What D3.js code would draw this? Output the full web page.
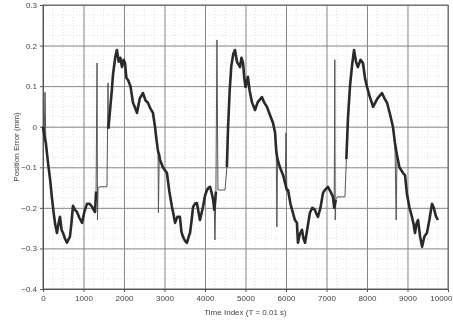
<!DOCTYPE html>
<html>
<head>
<meta charset="utf-8">
<script src="https://cdn.jsdelivr.net/npm/d3@7"></script>
<style>
  body { margin: 0; background: #fff; }
  svg { display: block; filter: blur(0.5px); }
  .tick text { font-family: "Liberation Sans", Arial, sans-serif; font-size: 8px; fill: #444; }
  .axis-title { font-family: "Liberation Sans", Arial, sans-serif; font-size: 8px; fill: #444; }
</style>
</head>
<body>
<svg width="453" height="322"></svg>
<script>
// time index (samples, T = 0.01 s)
const timeIdx = [
  0, 30, 50, 70, 125, 175, 220, 260, 300, 345, 390, 420, 460, 495, 540, 590, 630, 665, 700, 740,
  790, 840, 900, 965, 1020, 1085, 1150, 1210, 1250, 1285, 1310, 1335, 1345, 1360, 1405, 1480, 1580, 1605, 1615, 1655,
  1700, 1730, 1790, 1825, 1870, 1910, 1950, 1990, 2025, 2060, 2100, 2160, 2220, 2280, 2320, 2390, 2470, 2530, 2590, 2650,
  2715, 2765, 2800, 2840, 2850, 2870, 2890, 2960, 3060, 3120, 3185, 3230, 3260, 3320, 3380, 3420, 3455, 3500, 3555, 3600,
  3630, 3670, 3705, 3750, 3800, 3840, 3875, 3910, 3950, 4000, 4050, 4090, 4125, 4170, 4200, 4230, 4245, 4270, 4295, 4320,
  4495, 4540, 4570, 4610, 4650, 4700, 4740, 4790, 4865, 4900, 4940, 4970, 5000, 5060, 5100, 5160, 5235, 5300, 5405, 5460,
  5530, 5600, 5680, 5730, 5760, 5775, 5790, 5850, 5930, 5980, 6000, 6020, 6050, 6110, 6170, 6220, 6270, 6295, 6340, 6395,
  6430, 6470, 6530, 6590, 6650, 6715, 6750, 6790, 6850, 6915, 6970, 7035, 7100, 7160, 7190, 7205, 7215, 7230, 7260, 7455,
  7490, 7530, 7580, 7630, 7680, 7730, 7775, 7840, 7900, 7950, 8000, 8050, 8150, 8260, 8370, 8430, 8495, 8570, 8640, 8690,
  8720, 8740, 8800, 8890, 8940, 8985, 9050, 9110, 9150, 9185, 9220, 9260, 9310, 9360, 9420, 9480, 9540, 9605, 9650, 9700,
  9750
];

// position error (mm)
const posError = [
  0.0, -0.02, 0.085, -0.04, -0.09, -0.13, -0.175, -0.21, -0.24, -0.262, -0.235, -0.222, -0.255, -0.262, -0.275, -0.286, -0.278, -0.271, -0.24, -0.195,
  -0.205, -0.21, -0.225, -0.237, -0.21, -0.19, -0.19, -0.197, -0.205, -0.21, -0.16, 0.157, -0.23, -0.15, -0.148, -0.148, -0.148, 0.108, -0.005, 0.04,
  0.09, 0.13, 0.175, 0.189, 0.16, 0.17, 0.147, 0.165, 0.157, 0.12, 0.115, 0.10, 0.06, 0.045, 0.034, 0.07, 0.083, 0.065, 0.059, 0.045,
  0.034, 0.0, -0.03, -0.06, -0.212, -0.07, -0.082, -0.10, -0.114, -0.16, -0.198, -0.22, -0.237, -0.222, -0.222, -0.26, -0.271, -0.28, -0.286, -0.27,
  -0.262, -0.23, -0.198, -0.19, -0.188, -0.21, -0.23, -0.215, -0.198, -0.17, -0.156, -0.15, -0.148, -0.165, -0.18, -0.205, -0.279, -0.16, 0.214, -0.156,
  -0.156, -0.1, 0.0, 0.09, 0.15, 0.18, 0.189, 0.16, 0.147, 0.17, 0.157, 0.12, 0.098, 0.123, 0.09, 0.06, 0.041, 0.06, 0.073, 0.06,
  0.049, 0.03, 0.009, -0.015, -0.06, -0.247, -0.08, -0.1, -0.12, -0.14, -0.015, -0.156, -0.156, -0.19, -0.212, -0.23, -0.237, -0.286, -0.265, -0.254,
  -0.275, -0.286, -0.25, -0.212, -0.2, -0.205, -0.215, -0.222, -0.2, -0.163, -0.155, -0.148, -0.16, -0.173, -0.2, 0.165, -0.23, -0.18, -0.173, -0.173,
  -0.08, 0.02, 0.1, 0.15, 0.189, 0.16, 0.147, 0.165, 0.157, 0.12, 0.098, 0.08, 0.049, 0.07, 0.083, 0.07, 0.059, 0.03, 0.0, -0.04,
  -0.23, -0.07, -0.1, -0.114, -0.12, -0.165, -0.2, -0.222, -0.24, -0.262, -0.24, -0.23, -0.27, -0.296, -0.27, -0.262, -0.23, -0.19, -0.2, -0.22,
  -0.23
];

// single-sample spikes (thin) and hold stretches (thin)
const spikeTimes = [50, 1335, 1345, 1605, 2850, 4245, 4295, 5775, 6000, 7205, 7215, 8720];
const holdRanges = [[1360, 1580], [4320, 4495], [7260, 7455]];

const xTicks = [0, 1000, 2000, 3000, 4000, 5000, 6000, 7000, 8000, 9000, 10000];
const yTicks = [0.3, 0.2, 0.1, 0, -0.1, -0.2, -0.3, -0.4];

const margin = {top: 5, right: 5, bottom: 33, left: 43};
const svg = d3.select('svg');
const width = +svg.attr('width') - margin.left - margin.right;
const height = +svg.attr('height') - margin.top - margin.bottom;
const g = svg.append('g')
    .attr('transform', 'translate(' + margin.left + ',' + margin.top + ')');

const x = d3.scaleLinear().domain([0, 10000]).range([0, width]);
const y = d3.scaleLinear().domain([-0.4, 0.3]).range([height, 0]);

// minor dotted grid
g.append('g')
    .selectAll('line')
    .data(d3.range(-0.4, 0.3001, 0.025))
    .enter().append('line')
    .attr('x1', 0).attr('x2', width)
    .attr('y1', d => y(d)).attr('y2', d => y(d))
    .attr('stroke', '#e2e2e2').attr('stroke-dasharray', '1,2');
g.append('g')
    .selectAll('line')
    .data(d3.range(0, 10001, 250))
    .enter().append('line')
    .attr('y1', 0).attr('y2', height)
    .attr('x1', d => x(d)).attr('x2', d => x(d))
    .attr('stroke', '#e2e2e2').attr('stroke-dasharray', '1,2');

// major grid
g.append('g')
    .attr('transform', 'translate(0,' + height + ')')
    .call(d3.axisBottom(x).tickValues(xTicks).tickSize(-height).tickFormat(''))
    .call(s => s.select('.domain').remove())
    .selectAll('line').attr('stroke', '#888');
g.append('g')
    .call(d3.axisLeft(y).tickValues(yTicks).tickSize(-width).tickFormat(''))
    .call(s => s.select('.domain').remove())
    .selectAll('line').attr('stroke', '#888');

// frame
g.append('rect')
    .attr('width', width).attr('height', height)
    .attr('fill', 'none').attr('stroke', '#666');

// axes
g.append('g')
    .attr('transform', 'translate(0,' + height + ')')
    .call(d3.axisBottom(x).tickValues(xTicks).tickSize(3).tickFormat(d3.format('d')))
    .call(s => s.selectAll('line, path').attr('stroke', '#555'))
    .call(s => s.selectAll('.tick:last-child text').attr('text-anchor', 'end').attr('dx', 4));
g.append('g')
    .call(d3.axisLeft(y).tickValues(yTicks).tickSize(3).tickFormat(d3.format('.1~f')))
    .call(s => s.selectAll('line, path').attr('stroke', '#555'));

// series
const pts = posError.map((v, i) => [timeIdx[i], v]);
const inHold = d => holdRanges.some(r => d[0] >= r[0] && d[0] <= r[1]);
const line = d3.line()
    .x(d => x(d[0]))
    .y(d => y(d[1]));

g.append('path')
    .datum(pts)
    .attr('fill', 'none')
    .attr('stroke', '#555')
    .attr('stroke-width', 1)
    .attr('d', line);

g.append('path')
    .datum(pts.filter(d => !spikeTimes.includes(d[0])))
    .attr('fill', 'none')
    .attr('stroke', '#2a2a2a')
    .attr('stroke-width', 2.6)
    .attr('stroke-linejoin', 'round')
    .attr('d', line.defined(d => !inHold(d)));

// titles
svg.append('text')
    .attr('class', 'axis-title')
    .attr('x', margin.left + width / 2)
    .attr('y', 315)
    .attr('text-anchor', 'middle')
    .text('Time Index (T = 0.01 s)');
svg.append('text')
    .attr('class', 'axis-title')
    .attr('transform', 'translate(19,' + (margin.top + height / 2) + ') rotate(-90)')
    .attr('text-anchor', 'middle')
    .text('Position Error (mm)');
</script>
</body>
</html>
